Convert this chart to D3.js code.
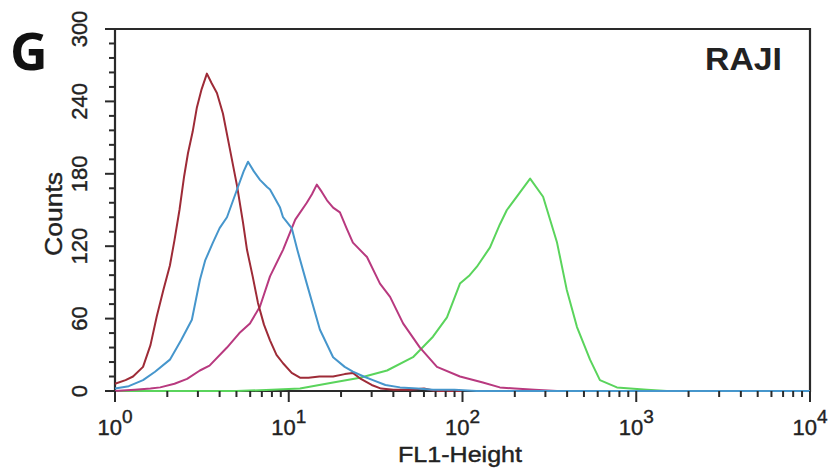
<!DOCTYPE html>
<html><head><meta charset="utf-8">
<script src="https://cdn.jsdelivr.net/npm/d3@7"></script>
<style>body{margin:0;background:#fff;}svg{display:block;}</style>
</head><body>
<svg id="c" width="831" height="471"></svg>
<script>
// ---- data (FL1 value, counts) ----
const redFL1   = [1.0,1.15,1.27,1.45,1.6,1.74,1.9,2.07,2.2,2.35,2.5,2.63,2.8,2.96,3.15,3.38,3.6,3.86,4.18,4.59,5.04,5.45,5.75,6.2,6.65,7.2,7.8,8.5,9.27,10.4,11.6,13,15,18,21,23.4,26,30,34,40,50,60,70,100];
const redCnt   = [6,9,12,20,38,62,84,104,125,150,178,197,215,235,250,263,255,247,230,200,170,140,117,95,73,55,42,30,23,15,11,11,12,12,14,15,10,5,2,1,1,2,0,0];
const blueFL1  = [1.0,1.2,1.45,1.7,2.07,2.4,2.77,3.08,3.3,3.66,4.0,4.41,5.04,5.5,5.83,6.3,6.83,7.5,7.8,8.91,9.27,10.4,11.2,12.7,15.1,18,21,23.4,27,30.5,36,43.7,55,67.6,90,120,10000];
const blueCnt  = [2,4,9,16,26,42,59,92,108,123,135,144,167,182,190,182,175,169,167,152,144,135,117,89,51,28,20,16,12,9,5,3,2,1,1,0,0];
const magFL1   = [1.0,1.3,1.6,1.82,2.2,2.6,3.08,3.5,4.41,5.2,5.98,6.83,7.8,9.27,10.9,12.7,13.6,14.5,15.5,16.6,18,19.7,21.5,23.4,28.2,33.5,38.3,45.5,56.9,71.3,96.7,131,164,200,260,350];
const magCnt   = [0,1,2,3,6,10,17,21,36,48,56,70,95,117,142,156,163,171,165,158,152,148,135,123,111,89,78,56,36,20,12,7,3,2,1,0];
const grnFL1   = [1.0,5,8,11.6,18,25.7,36.8,51.9,67.6,81.4,96.7,110,121,144,164,180,210,245,291,350,398,456,542,618,774,1153,1500];
const grnCnt   = [0,0,1,2,7,11,17,28,45,61,89,96,103,119,138,150,163,176,161,123,84,53,26,9,3,1,0];
const yTicks   = [0,60,120,180,240,300];
const xTicks   = [1,10,100,1000,10000];
const xTickExp = ["0","1","2","3","4"];

const series = [
  {fl: grnFL1,  c: grnCnt,  color: "#5ad45c"},
  {fl: magFL1,  c: magCnt,  color: "#b8397f"},
  {fl: redFL1,  c: redCnt,  color: "#9e2b37"},
  {fl: blueFL1, c: blueCnt, color: "#4696cc"}
];

const svg = d3.select("#c");
const L = 115, R = 810, T = 29, B = 391;
const x = d3.scaleLog().domain([1,10000]).range([L,R]);
const y = d3.scaleLinear().domain([0,300]).range([B,T]);
const FONT = "Liberation Sans, Arial, sans-serif";
const axisColor = "#2a2a2a";

// frame
svg.append("path").attr("d",`M${L},${B}V${T}H${R}V${B}H${L}`).attr("fill","none")
  .attr("stroke",axisColor).attr("stroke-width",2.2);

// curves
const line = d3.line().x(d=>x(d[0])).y(d=>y(d[1])).curve(d3.curveLinear);
series.forEach(s=>{
  const pts = s.fl.map((f,i)=>[f,s.c[i]]);
  svg.append("path").attr("d",line(pts)).attr("fill","none")
    .attr("stroke",s.color).attr("stroke-width",2).attr("stroke-linejoin","round");
});

// y ticks (minor every 12)
const yMinor = d3.range(0,301,12);
svg.append("g").selectAll("line").data(yMinor).join("line")
  .attr("x1",d=> (d%60===0)? L-10 : L-6).attr("x2",L)
  .attr("y1",d=>y(d)).attr("y2",d=>y(d))
  .attr("stroke",axisColor).attr("stroke-width",2);
svg.append("g").selectAll("text").data(yTicks).join("text")
  .attr("transform",d=>`translate(87,${y(d)}) rotate(-90)`)
  .attr("text-anchor","middle")
  .attr("font-family",FONT)
  .attr("font-size",22).attr("fill","#222").attr("stroke","#222").attr("stroke-width",0.4)
  .text(d=>d);

// x ticks (minor 2..9 each decade)
const xMinor = [];
for (let e=0;e<4;e++) for (let k=1;k<10;k++) xMinor.push(k*Math.pow(10,e));
xMinor.push(10000);
svg.append("g").selectAll("line").data(xMinor).join("line")
  .attr("x1",d=>x(d)).attr("x2",d=>x(d))
  .attr("y1",B).attr("y2",d=> xTicks.includes(d)? B+11 : B+6)
  .attr("stroke",axisColor).attr("stroke-width",2);
const xl = svg.append("g").selectAll("text").data(xTicks).join("text")
  .attr("x",(d)=>x(d)).attr("y",435)
  .attr("text-anchor","middle")
  .attr("font-family",FONT)
  .attr("font-size",22).attr("fill","#222").attr("stroke","#222").attr("stroke-width",0.4);
xl.append("tspan").text("10");
xl.append("tspan").attr("dy",-12).attr("font-size",19).text((d,i)=>xTickExp[i]);

// axis titles
svg.append("text").attr("transform",`translate(62,214) rotate(-90)`)
  .attr("text-anchor","middle").attr("font-family",FONT)
  .attr("font-size",23).attr("fill","#222").attr("stroke","#222").attr("stroke-width",0.4)
  .attr("textLength",84).attr("lengthAdjust","spacingAndGlyphs").text("Counts");
svg.append("text").attr("x",460).attr("y",462).attr("text-anchor","middle")
  .attr("font-family",FONT)
  .attr("font-size",22).attr("fill","#222").attr("stroke","#222").attr("stroke-width",0.4)
  .attr("textLength",124).attr("lengthAdjust","spacingAndGlyphs").text("FL1-Height");

// panel labels
svg.append("text").attr("x",10).attr("y",70)
  .attr("font-family","Open Sans, Liberation Sans, sans-serif").attr("font-weight","bold")
  .attr("font-size",52).attr("fill","#111").text("G");
svg.append("text").attr("x",705).attr("y",70)
  .attr("font-family",FONT).attr("font-weight","bold")
  .attr("font-size",31).attr("fill","#222")
  .attr("textLength",77).attr("lengthAdjust","spacingAndGlyphs").text("RAJI");
</script>
</body></html>
